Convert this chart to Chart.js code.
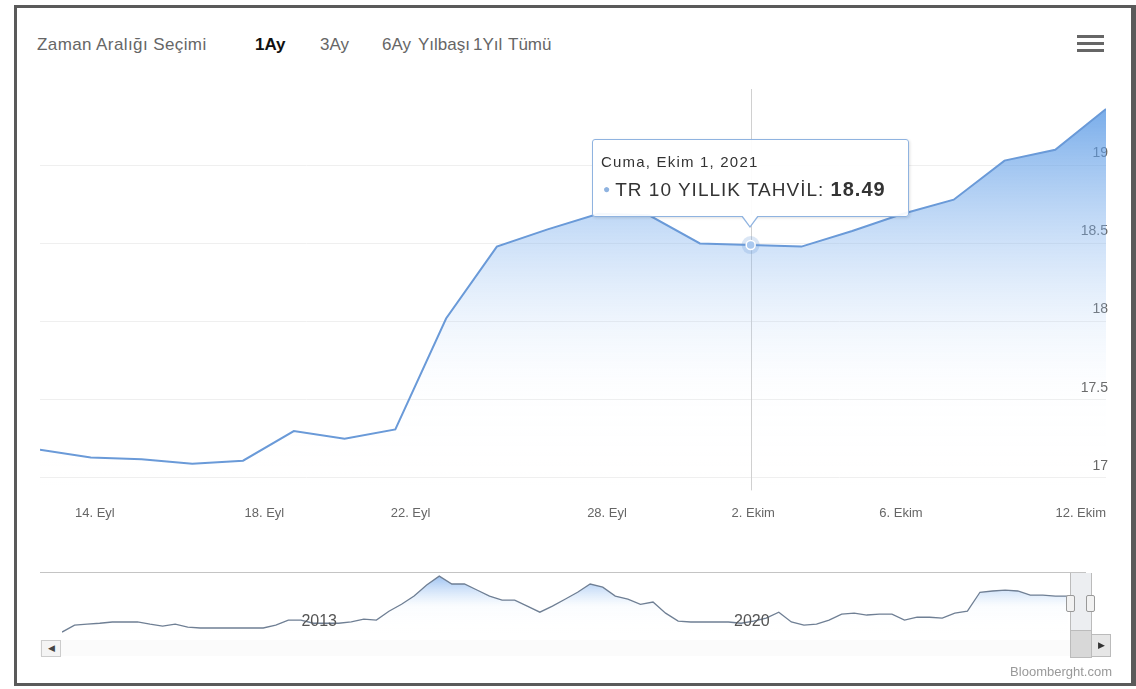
<!DOCTYPE html>
<html lang="tr">
<head>
<meta charset="utf-8">
<title>TR 10 Yıllık Tahvil</title>
<script src="https://cdn.jsdelivr.net/npm/chart.js@4.4.1/dist/chart.umd.min.js"></script>
<style>
html,body{margin:0;padding:0;background:#fff;}
body{width:1136px;height:689px;position:relative;overflow:hidden;font-family:"Liberation Sans",Arial,sans-serif;}
#frame{position:absolute;left:14px;top:5px;width:1114px;height:675px;border:3px solid #5a5a5a;border-right-width:5px;pointer-events:none;}
.rs{position:absolute;top:36px;font-size:17px;line-height:18px;color:#666;white-space:nowrap;}
.rs.on{color:#111;font-weight:bold;}
#menu{position:absolute;left:1077px;top:35px;width:27px;}
#menu div{height:3px;background:#666;margin-bottom:4px;}
#mainWrap{position:absolute;left:0;top:0;width:1136px;height:538px;}
#navWrap{position:absolute;left:0;top:560px;width:1136px;height:80px;}
#navTop{position:absolute;left:40px;top:572px;width:1046px;height:1px;background:#c4c4c4;}
#navMask{position:absolute;left:1070px;top:573px;width:20px;height:60px;background:rgba(200,205,215,0.35);border-left:1px solid #bbb;border-right:1px solid #bbb;}
.handle{position:absolute;top:595px;width:7px;height:15px;background:#f2f2f2;border:1px solid #999;border-radius:2px;}
#sbTrack{position:absolute;left:40px;top:640px;width:1070px;height:16px;background:#fbfbfb;}
#sbLeft{position:absolute;left:41px;top:640px;width:18px;height:15px;border:1px solid #ccc;background:#f4f4f4;font-size:9px;line-height:15px;text-align:center;color:#444;}
#sbThumb{position:absolute;left:1070px;top:630px;width:20px;height:26px;background:#d8d8d8;border:1px solid #bbb;}
#sbRight{position:absolute;left:1091px;top:634px;width:18px;height:21px;border:1px solid #bbb;background:#e6e6e6;font-size:9px;line-height:21px;text-align:center;color:#333;}
#credit{position:absolute;right:24px;top:664px;font-size:13px;color:#999;}
#tip{position:absolute;background:rgba(255,255,255,0.93);border:1px solid #8fb3e0;border-radius:3px;padding:12px 22px 14px 8px;white-space:nowrap;color:#333;box-shadow:1px 1px 3px rgba(0,0,0,0.12);display:none;}
#tip .t1{font-size:15px;line-height:19px;letter-spacing:1.2px;}
#tip .t2{font-size:19px;line-height:24px;margin-top:6px;letter-spacing:1px;}
#tip .dot{color:#8fb3e0;font-size:12px;vertical-align:3px;margin:0 4px 0 2px;}
#tip b{font-size:20px;}
#tip .ar1,#tip .ar2{position:absolute;left:50%;width:0;height:0;border-left:9px solid transparent;border-right:9px solid transparent;}
#tip .ar1{bottom:-12px;margin-left:-9px;border-top:12px solid #8fb3e0;}
#tip .ar2{bottom:-10px;margin-left:-8px;border-left-width:8px;border-right-width:8px;border-top:11px solid #fff;}
</style>
</head>
<body>

<span class="rs" style="left:37px;letter-spacing:0.4px">Zaman Aralığı Seçimi</span>
<span class="rs on" style="left:255px">1Ay</span>
<span class="rs" style="left:320px">3Ay</span>
<span class="rs" style="left:382px">6Ay</span>
<span class="rs" style="left:418px">Yılbaşı</span>
<span class="rs" style="left:473px">1Yıl</span>
<span class="rs" style="left:508px">Tümü</span>
<div id="menu"><div></div><div></div><div></div></div>

<div id="mainWrap"><canvas id="chartMain"></canvas></div>

<div id="navTop"></div>
<div id="navWrap"><canvas id="chartNav"></canvas></div>
<div id="navMask"></div>
<div class="handle" style="left:1066px"></div>
<div class="handle" style="left:1086px"></div>
<div id="sbTrack"></div>
<div id="sbLeft">&#9664;</div>
<div id="sbThumb"></div>
<div id="sbRight">&#9654;</div>
<div id="credit">Bloomberght.com</div>

<div id="tip"><div class="t1"></div><div class="t2"><span class="dot">&#9679;</span><span class="nm"></span>: <b></b></div><div class="ar1"></div><div class="ar2"></div></div>

<div id="frame"></div>

<script>
/* =========================
   DATOS
========================= */

const seriesName = "TR 10 YILLIK TAHVİL";

// islem gunleri (hafta sonu yok)
const dates = ["2021-09-13","2021-09-14","2021-09-15","2021-09-16","2021-09-17",
"2021-09-20","2021-09-21","2021-09-22","2021-09-23","2021-09-24",
"2021-09-27","2021-09-28","2021-09-29","2021-09-30","2021-10-01",
"2021-10-04","2021-10-05","2021-10-06","2021-10-07","2021-10-08",
"2021-10-11","2021-10-12"];

const yields = [17.18,17.13,17.12,17.09,17.11,
17.30,17.25,17.31,18.02,18.48,
18.59,18.69,18.68,18.50,18.49,
18.48,18.58,18.69,18.78,19.03,
19.10,19.36];

const hoverIdx = 14; // Cuma, Ekim 1

const xTickAt = [0, 1.08, 4.42, 7.3, 11.17, 14.05, 16.96, 21];
const xTickLabels = ["", "14. Eyl", "18. Eyl", "22. Eyl", "28. Eyl", "2. Ekim", "6. Ekim", "12. Ekim"];
const yTicks = [17, 17.5, 18, 18.5, 19];

// navigator (tum donem)
const navYields = [6.0,8.2,8.5,8.8,9.2,9.2,9.2,8.5,7.9,8.5,
7.6,7.3,7.3,7.3,7.3,7.3,7.3,8.2,9.8,9.8,
8.8,8.8,8.8,9.2,10.1,9.8,12.6,14.8,17.4,20.9,
23.7,21.2,21.2,19.3,17.4,16.1,16.1,14.2,12.3,14.2,
16.4,18.6,21.2,20.2,17.4,16.4,14.8,15.5,12.0,9.5,
9.2,9.2,9.2,9.2,8.8,9.5,10.4,12.3,9.2,8.2,
8.5,9.8,11.7,12.0,11.4,11.7,11.7,9.8,10.7,10.7,
10.4,12.0,12.6,18.6,19.0,19.3,19.0,17.7,17.7,17.4,
17.4];
const navTickAt = [18.8, 53.2];
const navTickLabels = ["2013", "2020"];

const dayNames = ["Pazar","Pazartesi","Salı","Çarşamba","Perşembe","Cuma","Cumartesi"];
const monthNames = ["Ocak","Şubat","Mart","Nisan","Mayıs","Haziran","Temmuz","Ağustos","Eylül","Ekim","Kasım","Aralık"];

function fmtDate(s){
  let p = s.split("-").map(Number);
  let d = new Date(p[0], p[1]-1, p[2]);
  return dayNames[d.getDay()] + ", " + monthNames[d.getMonth()] + " " + d.getDate() + ", " + d.getFullYear();
}

const lineColor = "#6a9ad8";
const fontFam = "'Liberation Sans', Arial, sans-serif";

/* =========================
   PLUGINS
========================= */

const crosshair = {
  id: "crosshair",
  beforeDatasetsDraw(chart){
    let act = chart.tooltip ? chart.tooltip.getActiveElements() : [];
    if(!act.length) return;
    let x = Math.round(act[0].element.x) + 0.5;
    let ctx = chart.ctx, a = chart.chartArea;
    ctx.save();
    ctx.strokeStyle = "#d0d0d0";
    ctx.lineWidth = 1;
    ctx.beginPath();
    ctx.moveTo(x, a.top - 6);
    ctx.lineTo(x, a.bottom);
    ctx.stroke();
    ctx.restore();
  },
  afterDatasetsDraw(chart){
    let act = chart.tooltip ? chart.tooltip.getActiveElements() : [];
    if(!act.length) return;
    let el = act[0].element;
    let ctx = chart.ctx;
    ctx.save();
    ctx.fillStyle = "rgba(106,154,216,0.25)";
    ctx.beginPath();
    ctx.arc(el.x, el.y, 9, 0, Math.PI*2);
    ctx.fill();
    ctx.fillStyle = "#a9c8ef";
    ctx.strokeStyle = "#ffffff";
    ctx.lineWidth = 1.5;
    ctx.beginPath();
    ctx.arc(el.x, el.y, 4.5, 0, Math.PI*2);
    ctx.fill();
    ctx.stroke();
    ctx.restore();
  }
};

const navLabels = {
  id: "navLabels",
  afterDatasetsDraw(chart){
    let ctx = chart.ctx, sx = chart.scales.x;
    ctx.save();
    ctx.font = "16px " + fontFam;
    ctx.fillStyle = "#555";
    ctx.textBaseline = "middle";
    navTickAt.forEach((v,i)=>{
      ctx.fillText(navTickLabels[i], sx.getPixelForValue(v) + 3, chart.chartArea.top + 50);
    });
    ctx.restore();
  }
};

function externalTip(context){
  let tip = document.getElementById("tip");
  let t = context.tooltip;
  if(!t || !t.dataPoints || !t.dataPoints.length){ tip.style.display = "none"; return; }
  let dp = t.dataPoints[0];
  tip.querySelector(".t1").textContent = fmtDate(dates[dp.dataIndex]);
  tip.querySelector(".nm").textContent = seriesName;
  tip.querySelector("b").textContent = yields[dp.dataIndex].toFixed(2);
  tip.style.display = "block";
  let c = context.chart.canvas;
  let left = c.offsetLeft + c.parentNode.offsetLeft + t.caretX - tip.offsetWidth/2;
  let top = c.offsetTop + c.parentNode.offsetTop + t.caretY - 28 - tip.offsetHeight;
  tip.style.left = Math.round(left) + "px";
  tip.style.top = Math.round(top) + "px";
}

/* =========================
   CHART 1: ANA GRAFIK
========================= */

let mainChart = new Chart(document.getElementById("chartMain"), {
type: "line",
data: {
datasets: [{
label: seriesName,
data: yields.map((v,i)=>({x:i, y:v})),
borderColor: lineColor,
borderWidth: 2,
pointRadius: 0,
tension: 0,
fill: "start",
backgroundColor: (c)=>{
  let {ctx, chartArea} = c.chart;
  if(!chartArea) return "rgba(0,0,0,0)";
  let g = ctx.createLinearGradient(0, chartArea.top, 0, chartArea.bottom);
  g.addColorStop(0, "rgba(74,144,226,0.80)");
  g.addColorStop(0.45, "rgba(140,185,240,0.30)");
  g.addColorStop(0.75, "rgba(215,232,252,0.04)");
  g.addColorStop(1, "rgba(255,255,255,0)");
  return g;
}
}]
},
options: {
  responsive: true,
  maintainAspectRatio: false,
  animation: false,
  events: [],
  layout: { padding: { left: 40, right: 26, top: 95, bottom: 10 } },
  plugins: {
    legend: { display: false },
    tooltip: { enabled: false, mode: "nearest", intersect: false, external: externalTip }
  },
  scales: {
    x: {
      type: "linear",
      min: 0,
      max: yields.length - 1,
      afterBuildTicks: s => { s.ticks = xTickAt.map(v=>({value:v})); },
      ticks: {
        autoSkip: false, maxRotation: 0, align: "inner", padding: 7,
        color: "#666", font: { size: 13, family: fontFam },
        callback: (v,i) => xTickLabels[i]
      },
      grid: { display: false },
      border: { display: false }
    },
    y: {
      position: "right",
      min: 16.92,
      max: 19.45,
      afterBuildTicks: s => { s.ticks = yTicks.map(v=>({value:v})); },
      ticks: {
        mirror: true, padding: 2, labelOffset: -12,
        color: "#666", font: { size: 14, family: fontFam },
        callback: v => String(v)
      },
      grid: { color: "#efefef", drawTicks: false },
      border: { display: false }
    }
  }
},
plugins: [crosshair]
});

let hp = mainChart.getDatasetMeta(0).data[hoverIdx];
mainChart.tooltip.setActiveElements([{datasetIndex:0, index:hoverIdx}], {x: hp.x, y: hp.y});
mainChart.draw();

/* =========================
   CHART 2: NAVIGATOR
========================= */

new Chart(document.getElementById("chartNav"), {
type: "line",
data: {
datasets: [{
data: navYields.map((v,i)=>({x:i, y:v})),
borderColor: "#6f7f94",
borderWidth: 1.3,
pointRadius: 0,
tension: 0,
fill: "start",
backgroundColor: (c)=>{
  let {ctx, chartArea} = c.chart;
  if(!chartArea) return "rgba(0,0,0,0)";
  let g = ctx.createLinearGradient(0, chartArea.top, 0, chartArea.bottom);
  g.addColorStop(0, "rgba(80,145,230,0.65)");
  g.addColorStop(0.55, "rgba(160,200,245,0.05)");
  g.addColorStop(1, "rgba(255,255,255,0)");
  return g;
}
}]
},
options: {
  responsive: true,
  maintainAspectRatio: false,
  animation: false,
  events: [],
  layout: { padding: { left: 62, right: 68, top: 12, bottom: 6 } },
  plugins: { legend: { display: false }, tooltip: { enabled: false } },
  scales: {
    x: { type: "linear", min: 0, max: navYields.length - 1, display: false },
    y: { min: 5.4, max: 25, display: false }
  }
},
plugins: [navLabels]
});
</script>
</body>
</html>
